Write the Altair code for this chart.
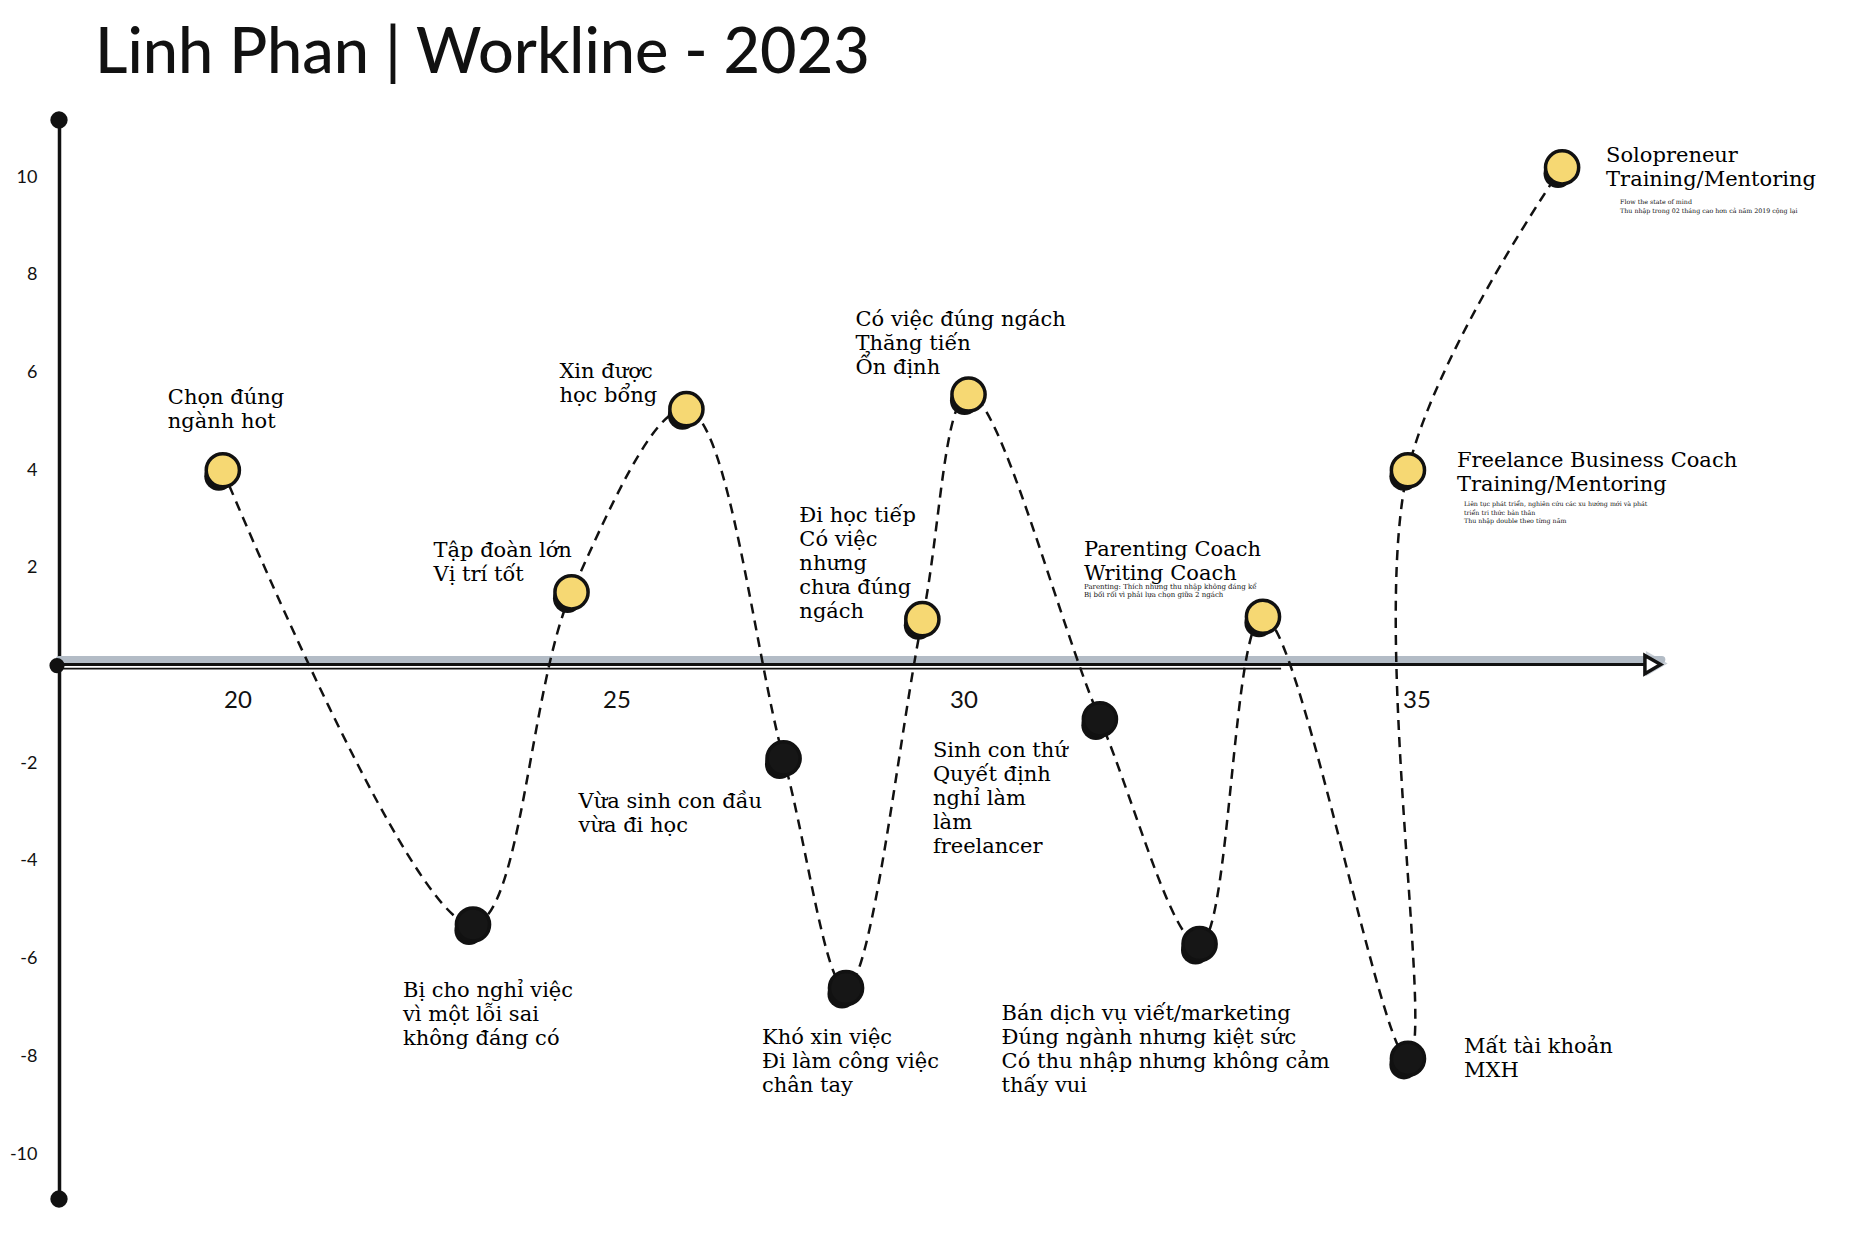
import altair as alt
import pandas as pd

# ---------------- data ----------------
ages = [19.8, 23.1, 24.4, 26.0, 27.4, 28.3, 29.4, 30.05, 31.5, 32.6, 33.3, 34.9, 34.9, 36.6]
scores = [4.0, -5.3, 1.5, 5.25, -1.9, -6.6, 0.95, 5.55, -1.1, -5.7, 1.0, -8.05, 4.0, 10.2]
events = [
    "Chọn đúng\nngành hot",
    "Bị cho nghỉ việc\nvì một lỗi sai\nkhông đáng có",
    "Tập đoàn lớn\nVị trí tốt",
    "Xin được\nhọc bổng",
    "Vừa sinh con đầu\nvừa đi học",
    "Khó xin việc\nĐi làm công việc\nchân tay",
    "Đi học tiếp\nCó việc\nnhưng\nchưa đúng\nngách",
    "Có việc đúng ngách\nThăng tiến\nỔn định",
    "Sinh con thứ\nQuyết định\nnghỉ làm\nlàm\nfreelancer",
    "Bán dịch vụ viết/marketing\nĐúng ngành nhưng kiệt sức\nCó thu nhập nhưng không cảm\nthấy vui",
    "Parenting Coach\nWriting Coach",
    "Mất tài khoản\nMXH",
    "Freelance Business Coach\nTraining/Mentoring",
    "Solopreneur\nTraining/Mentoring",
]
notes = [
    "", "", "", "", "", "", "", "", "", "",
    "Parenting: Thích nhưng thu nhập không đáng kể\nBị bối rối vì phải lựa chọn giữa 2 ngách",
    "",
    "Liên tục phát triển, nghiên cứu các xu hướng mới và phát\ntriển tri thức bản thân\nThu nhập double theo từng năm",
    "Flow the state of mind\nThu nhập trong 02 tháng cao hơn cả năm 2019 cộng lại",
]
x_ticks = [20, 25, 30, 35]
y_ticks = [-10, -8, -6, -4, -2, 2, 4, 6, 8, 10]
title_text = "Linh Phan | Workline - 2023"

# ---------------- layout / style ----------------
W, H = 1650, 1079
XMIN, XMAX = 17.64, 38.22
YMIN, YMAX = -10.92, 11.17
AXIS_END = 37.6
# hand-drawn x axis: ticks are unevenly spaced, so use a piecewise scale
XS = alt.Scale(domain=[XMIN, 20, 25, 30, 35, XMAX], range=[0, 179, 558, 905, 1358, W], nice=False, zero=False)
YS = alt.Scale(domain=[YMIN, YMAX], nice=False, zero=False)

LABEL_FONT = "DejaVu Serif"
SANS = "Lato"
INK = "#111111"
YELLOW = "#F6D873"
LFS = 21

# (dx, dy) of first baseline relative to the point
label_layout = [
    (-55, -66), (-70, 73), (-138, -35), (-127, -31), (-205, 50), (-84, 56),
    (-123, -97), (-113, -69), (-167, 38), (-198, 76), (-179, -61), (56, -6),
    (49, -3), (44, -5),
]
note_layout = {10: (-179, -28, 7.0, 8.5), 12: (56, 36, 6.3, 8.5), 13: (58, 37, 6.3, 8.5)}

df = pd.DataFrame({"idx": range(len(ages)), "age": ages, "score": scores,
                   "event": events, "note": notes})
df["kind"] = ["up" if s > 0 else "down" for s in scores]

YAX = alt.Axis(values=y_ticks, domain=True, domainColor=INK, domainWidth=3.5, ticks=False,
               grid=False, labelFontSize=18, labelFont=SANS, labelColor=INK, labelPadding=22,
               title=None, labelExpr="replace(datum.label, '−', '-')")


def X(field="age:Q"):
    return alt.X(field, scale=XS, axis=None)


def Y(field="score:Q"):
    return alt.Y(field, scale=YS, axis=YAX, title=None)


base = alt.Chart(df)
one = alt.Chart(pd.DataFrame({"a": [0]}))

# axis decorations
xaxis_shadow = one.mark_rule(color="#b3bcc6", strokeWidth=7, strokeCap="round", yOffset=-6).encode(
    x=alt.XDatum(XMIN, scale=XS, axis=None), x2=alt.X2Datum(AXIS_END + 0.1),
    y=alt.YDatum(0, scale=YS, axis=YAX))
xaxis_line = one.mark_rule(color=INK, strokeWidth=3, yOffset=-1).encode(
    x=alt.XDatum(XMIN, scale=XS, axis=None), x2=alt.X2Datum(AXIS_END),
    y=alt.YDatum(0, scale=YS, axis=YAX))
xaxis_line2 = one.mark_rule(color=INK, strokeWidth=1.6, yOffset=3).encode(
    x=alt.XDatum(XMIN, scale=XS, axis=None), x2=alt.X2Datum(33.5),
    y=alt.YDatum(0, scale=YS, axis=YAX))
arrow_shadow = one.mark_point(shape="triangle-right", size=330, filled=False, stroke="#b3bcc6",
                              strokeWidth=4, xOffset=3, yOffset=-2).encode(
    x=alt.XDatum(AXIS_END, scale=XS, axis=None), y=alt.YDatum(0, scale=YS, axis=YAX))
arrow = one.mark_point(shape="triangle-right", size=330, filled=True, fill="white", stroke=INK,
                       strokeWidth=3.5, opacity=1, yOffset=-1).encode(
    x=alt.XDatum(AXIS_END, scale=XS, axis=None), y=alt.YDatum(0, scale=YS, axis=YAX))
blob_top = one.mark_point(shape="circle", filled=True, color=INK, size=300, opacity=1).encode(
    x=alt.XDatum(XMIN, scale=XS, axis=None), y=alt.YDatum(YMAX, scale=YS, axis=YAX))
blob_bot = one.mark_point(shape="circle", filled=True, color=INK, size=300, opacity=1).encode(
    x=alt.XDatum(XMIN, scale=XS, axis=None), y=alt.YDatum(YMIN, scale=YS, axis=YAX))
blob_origin = one.mark_point(shape="circle", filled=True, color=INK, size=230, opacity=1, xOffset=-2).encode(
    x=alt.XDatum(XMIN, scale=XS, axis=None), y=alt.YDatum(0, scale=YS, axis=YAX))

title = alt.Chart(pd.DataFrame({"t": [title_text]})).mark_text(
    font=SANS, fontSize=63, fontWeight=500, color=INK, align="left", baseline="alphabetic",
    dx=36, dy=-47).encode(
    x=alt.XDatum(XMIN, scale=XS, axis=None), y=alt.YDatum(YMAX, scale=YS, axis=YAX), text="t:N")

x_labels = alt.Chart(pd.DataFrame({"t": x_ticks})).mark_text(
    font=SANS, fontSize=24, color=INK, baseline="middle", align="center", dy=35).encode(
    x=alt.X("t:Q", scale=XS, axis=None), y=alt.YDatum(0, scale=YS, axis=YAX), text="t:N")

# data marks
path = base.mark_line(color=INK, strokeWidth=2.5, strokeDash=[10, 7], interpolate="catmull-rom").encode(
    x=X(), y=Y(), order="idx:Q")
shadow = base.mark_point(shape="circle", filled=True, color=INK, size=850, opacity=1,
                         xOffset=-4, yOffset=6).encode(x=X(), y=Y())
dots = base.mark_point(shape="circle", filled=True, size=1100, opacity=1, stroke=INK,
                       strokeWidth=3.5).encode(
    x=X(), y=Y(),
    color=alt.Color("kind:N", scale=alt.Scale(domain=["up", "down"], range=[YELLOW, "#161616"]),
                    legend=None))

layers = [xaxis_shadow, xaxis_line, xaxis_line2, arrow_shadow, arrow, blob_top, blob_bot,
          blob_origin, title, x_labels, path, shadow, dots]

for i, (dx, dy) in enumerate(label_layout):
    layers.append(base.transform_filter(alt.datum.idx == i).mark_text(
        font=LABEL_FONT, fontSize=LFS, lineHeight=24, color="#000000", align="left",
        baseline="alphabetic", lineBreak="\n", dx=dx, dy=dy).encode(x=X(), y=Y(), text="event:N"))

for i, (dx, dy, fs, lh) in note_layout.items():
    layers.append(base.transform_filter(alt.datum.idx == i).mark_text(
        font=LABEL_FONT, fontSize=fs, lineHeight=lh, color=INK, align="left",
        baseline="alphabetic", lineBreak="\n", dx=dx, dy=dy).encode(x=X(), y=Y(), text="note:N"))

chart = alt.layer(*layers).properties(
    width=W, height=H,
    background="white",
    autosize=alt.AutoSizeParams(type="none"),
    padding={"left": 51, "top": 112, "right": 133, "bottom": 20},
).configure_view(stroke=None)

chart.save("out.html", embed_options={"renderer": "svg", "actions": False})
